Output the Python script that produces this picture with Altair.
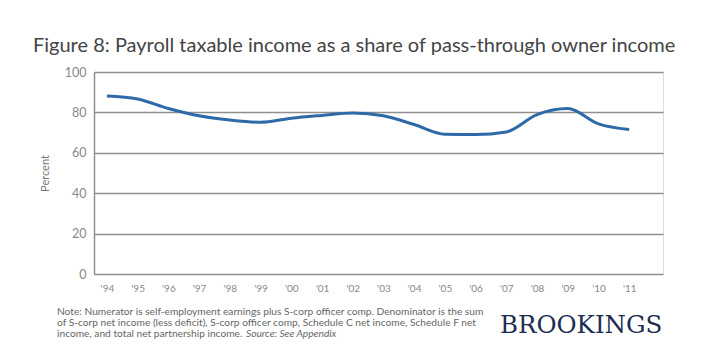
import altair as alt
import pandas as pd

years = list(range(1994, 2012))
values = [88.1, 86.6, 81.9, 78.3, 76.2, 75.1, 77.1, 78.5, 79.7, 78.3, 74.0, 69.2, 69.0, 70.3, 78.9, 81.9, 74.3, 71.5]
y_ticks = [0, 20, 40, 60, 80, 100]

title_text = "Figure 8: Payroll taxable income as a share of pass-through owner income"
note_lines = [
    "Note: Numerator is self-employment earnings plus S-corp officer comp. Denominator is the sum",
    "of S-corp net income (less deficit), S-corp officer comp, Schedule C net income, Schedule F net",
    "income, and total net partnership income.",
]
source_text = "Source: See Appendix"
brand = "BROOKINGS"

df = pd.DataFrame({"year": years, "value": values})

W, H = 569, 202
FONT = "Lato"

x = alt.X("year:Q",
          scale=alt.Scale(domain=[1993.58, 2012.1], nice=False, zero=False),
          axis=alt.Axis(values=years, labelExpr="\"'\" + slice(toString(datum.value), 2)",
                        title=None, grid=False, domain=False, ticks=False,
                        labelFontSize=10, labelColor="#888888", labelFont=FONT,
                        labelPadding=9))
y = alt.Y("value:Q",
          scale=alt.Scale(domain=[0, 100], nice=False),
          axis=alt.Axis(values=y_ticks, title="Percent", titleFont=FONT,
                        titleFontSize=11, titleFontWeight="normal", titleColor="#777777",
                        titlePadding=14,
                        labelFontSize=12.5, labelColor="#888888", labelFont=FONT,
                        labelPadding=8, grid=True, gridColor="#8f8f8f", gridWidth=1.5,
                        domain=True, domainColor="#8f8f8f", domainWidth=1.5,
                        ticks=False))

line = alt.Chart(df).mark_line(color="#2e6aa8", strokeWidth=3, interpolate="monotone").encode(x=x, y=y)

layers = [line]

layers.append(alt.Chart(pd.DataFrame({"t": [title_text]})).mark_text(
    align="left", baseline="alphabetic", fontSize=20, font=FONT, color="#444444"
).encode(text="t:N", x=alt.value(-61), y=alt.value(-20)))

note_y = [240, 251, 262]
for txt, yy in zip(note_lines, note_y):
    layers.append(alt.Chart(pd.DataFrame({"t": [txt]})).mark_text(
        align="left", baseline="middle", fontSize=10.2, font=FONT, color="#666666"
    ).encode(text="t:N", x=alt.value(-37), y=alt.value(yy)))

layers.append(alt.Chart(pd.DataFrame({"t": [source_text]})).mark_text(
    align="left", baseline="middle", fontSize=10.2, font=FONT, color="#666666", fontStyle="italic"
).encode(text="t:N", x=alt.value(152), y=alt.value(note_y[2])))

layers.append(alt.Chart(pd.DataFrame({"t": [brand]})).mark_text(
    align="left", baseline="middle", fontSize=24.5, font="DejaVu Serif", color="#1d2d52"
).encode(text="t:N", x=alt.value(406), y=alt.value(254)))

chart = alt.layer(*layers).properties(
    width=W, height=H,
    autosize=alt.AutoSizeParams(type="none"),
    padding={"left": 86, "top": 64, "right": 49, "bottom": 86},
).configure_view(stroke=None).configure(background="white")

chart.save("out.html", embed_options={"renderer": "svg", "actions": False})
